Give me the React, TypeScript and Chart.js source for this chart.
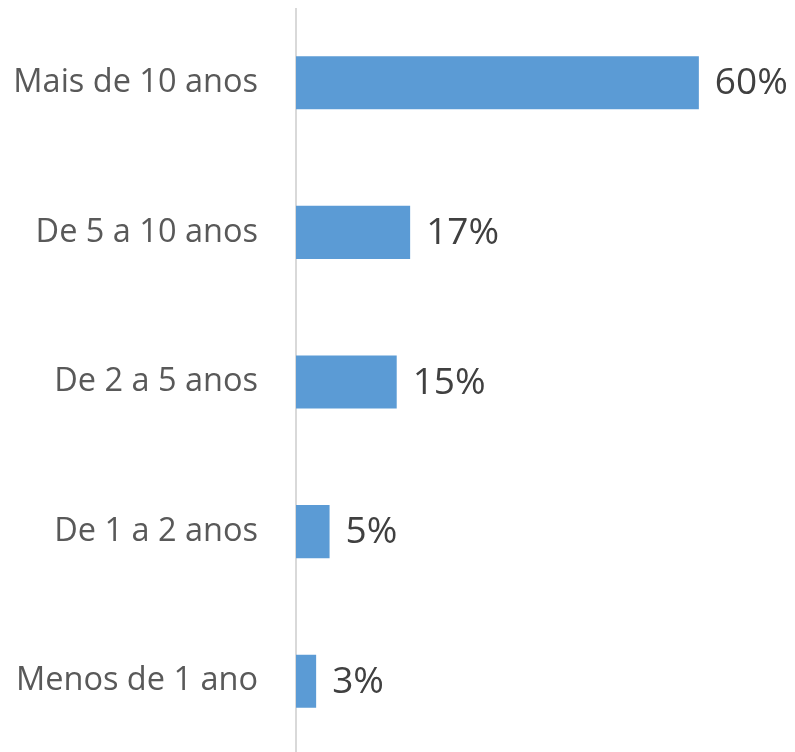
import React, { useEffect, useRef } from "react";
import { Chart, registerables } from "chart.js";

Chart.register(...registerables);

const categories = ["Mais de 10 anos", "De 5 a 10 anos", "De 2 a 5 anos", "De 1 a 2 anos", "Menos de 1 ano"];
const values = [60, 17, 15, 5, 3];
const valueLabels = ["60%", "17%", "15%", "5%", "3%"];

const barLabelPlugin = {
  id: "barLabels",
  afterDatasetsDraw(chart: any) {
    const ctx = chart.ctx;
    const meta = chart.getDatasetMeta(0);
    ctx.save();
    ctx.font = '37px "Open Sans"';
    ctx.fillStyle = "#404040";
    ctx.textAlign = "left";
    ctx.textBaseline = "middle";
    meta.data.forEach((bar: any, i: number) => {
      ctx.fillText(valueLabels[i], bar.x + 16, bar.y + 1);
    });
    ctx.restore();
  },
};

export default function App() {
  const ref = useRef<HTMLCanvasElement>(null);
  useEffect(() => {
    if (!ref.current) return;
    const chart = new Chart(ref.current, {
      type: "bar",
      data: {
        labels: categories,
        datasets: [
          {
            data: values,
            backgroundColor: "#5b9bd5",
            borderWidth: 0,
            categoryPercentage: 1,
            barPercentage: 0.355,
          },
        ],
      },
      options: {
        indexAxis: "y",
        responsive: false,
        animation: false,
        layout: { padding: { right: 21, top: 0, bottom: 0, left: 0 } },
        plugins: { legend: { display: false }, tooltip: { enabled: false } },
        scales: {
          x: { display: false, min: 0, max: 70 },
          y: {
            grid: { display: false, drawTicks: false },
            border: { color: "#d9d9d9", width: 2 },
            ticks: {
              color: "#595959",
              font: { family: "Open Sans", size: 32.5 },
              padding: 38,
            },
            afterFit(scale: any) {
              scale.width = 288;
              scale.paddingTop = 0;
              scale.paddingBottom = 0;
            },
          },
        },
      },
      plugins: [barLabelPlugin],
    });
    return () => chart.destroy();
  }, []);
  return <canvas ref={ref} width={779} height={748} />;
}
